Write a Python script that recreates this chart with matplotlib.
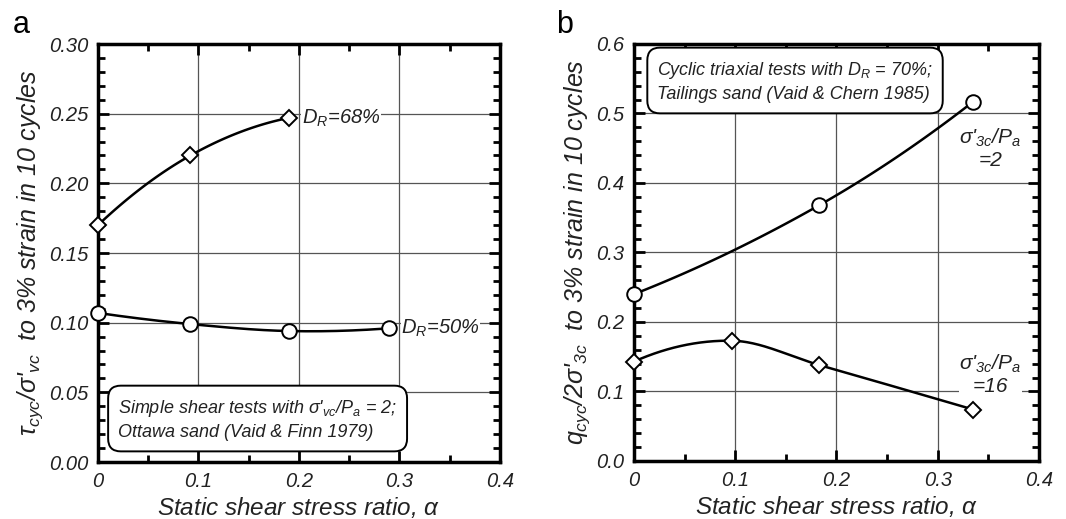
import numpy as np
import matplotlib
matplotlib.use('Agg')
import matplotlib.pyplot as plt
from matplotlib.ticker import MultipleLocator, FormatStrFormatter

plt.rcParams['font.family'] = ['Liberation Sans', 'DejaVu Sans']
plt.rcParams['font.style'] = 'italic'
plt.rcParams['mathtext.fontset'] = 'custom'
plt.rcParams['mathtext.rm'] = 'Liberation Sans:italic'
plt.rcParams['mathtext.it'] = 'Liberation Sans:italic'
plt.rcParams['mathtext.bf'] = 'Liberation Sans:bold:italic'

# panel a - simple shear (Vaid & Finn 1979)
a_dr68_x = [0.0, 0.092, 0.19]
a_dr68_y = [0.170, 0.220, 0.247]
a_dr50_x = [0.0, 0.092, 0.19, 0.29]
a_dr50_y = [0.107, 0.099, 0.094, 0.096]

# panel b - cyclic triaxial (Vaid & Chern 1985)
b_p2_x = [0.0, 0.183, 0.335]
b_p2_y = [0.240, 0.368, 0.517]
b_p16_x = [0.0, 0.097, 0.183, 0.335]
b_p16_y = [0.143, 0.173, 0.138, 0.074]

TXT = '#222222'


def smooth(x, y, n=60):
    # cubic hermite curve through the points (only for drawing)
    x = np.asarray(x, float)
    y = np.asarray(y, float)
    sec = np.diff(y) / np.diff(x)
    m = np.zeros_like(x)
    for i in range(1, len(x) - 1):
        m[i] = (y[i + 1] - y[i - 1]) / (x[i + 1] - x[i - 1])
    m[0] = 2 * sec[0] - m[1]
    m[-1] = 2 * sec[-1] - m[-2]
    xs_all, ys_all = [], []
    for i in range(len(x) - 1):
        h = x[i + 1] - x[i]
        t = np.linspace(0, 1, n)
        h00 = 2 * t**3 - 3 * t**2 + 1
        h10 = t**3 - 2 * t**2 + t
        h01 = -2 * t**3 + 3 * t**2
        h11 = t**3 - t**2
        xs_all.append(x[i] + t * h)
        ys_all.append(h00 * y[i] + h10 * h * m[i] + h01 * y[i + 1] + h11 * h * m[i + 1])
    return np.concatenate(xs_all), np.concatenate(ys_all)


def style_axes(ax, ymax, ymaj, ymin, yfmt):
    ax.set_xlim(0, 0.4)
    ax.set_ylim(0, ymax)
    ax.xaxis.set_major_locator(MultipleLocator(0.1))
    ax.xaxis.set_minor_locator(MultipleLocator(0.05))
    ax.yaxis.set_major_locator(MultipleLocator(ymaj))
    ax.yaxis.set_minor_locator(MultipleLocator(ymin))
    ax.xaxis.set_major_formatter(FormatStrFormatter('%g'))
    ax.yaxis.set_major_formatter(FormatStrFormatter(yfmt))
    ax.tick_params(which='both', direction='in', top=True, right=True,
                   labelsize=14.5, labelcolor=TXT, pad=7)
    ax.tick_params(which='major', length=8, width=2)
    ax.tick_params(which='minor', length=5, width=2)
    for s in ax.spines.values():
        s.set_linewidth(2.5)
    ax.grid(True, which='major', color='#555555', linewidth=0.9)
    ax.set_axisbelow(True)
    ax.set_xlabel(r'Static shear stress ratio, $\alpha$', fontsize=17.5,
                  color=TXT, labelpad=3)


fig = plt.figure(figsize=(10.66, 5.19), dpi=100)
ax1 = fig.add_axes([0.0919, 0.1098, 0.3771, 0.8054])
ax2 = fig.add_axes([0.5947, 0.1118, 0.3800, 0.8035])

wb = dict(facecolor='white', edgecolor='none', pad=0.5)
box = dict(boxstyle='round,pad=0.55,rounding_size=0.7', facecolor='white',
           edgecolor='black', linewidth=1.4)

# ---- panel a
style_axes(ax1, 0.30, 0.05, 0.01, '%.2f')
for xx, yy, mk, ms in [(a_dr68_x, a_dr68_y, 'D', 8), (a_dr50_x, a_dr50_y, 'o', 10.5)]:
    xs, ys = smooth(xx, yy)
    ax1.plot(xs, ys, color='black', linewidth=1.8, zorder=3)
    ax1.plot(xx, yy, linestyle='none', marker=mk, markersize=ms,
             markerfacecolor='white', markeredgecolor='black',
             markeredgewidth=1.4, zorder=4, clip_on=False)
ax1.text(0.203, 0.247, r'$D_R$=68%', fontsize=14.5, color=TXT,
         va='center', ha='left', bbox=wb, zorder=5)
ax1.text(0.302, 0.096, r'$D_R$=50%', fontsize=14.5, color=TXT,
         va='center', ha='left', bbox=wb, zorder=5)
ax1.text(0.02, 0.0305, "Simple shear tests with $\\sigma$'$_{vc}$/$P_a$ = 2;\nOttawa sand (Vaid & Finn 1979)",
         fontsize=13, color=TXT, va='center', ha='left', linespacing=1.45,
         bbox=box, zorder=6)
ax1.set_ylabel(r"$\tau_{cyc}$/$\sigma$'$_{vc}$  to 3% strain in 10 cycles",
               fontsize=18, color=TXT, labelpad=3)
fig.text(0.012, 0.952, 'a', fontsize=22, style='normal', color='black',
         ha='left', va='center')

# ---- panel b
style_axes(ax2, 0.6, 0.1, 0.02, '%.1f')
for xx, yy, mk, ms in [(b_p2_x, b_p2_y, 'o', 10.5), (b_p16_x, b_p16_y, 'D', 8)]:
    xs, ys = smooth(xx, yy)
    ax2.plot(xs, ys, color='black', linewidth=1.8, zorder=3)
    ax2.plot(xx, yy, linestyle='none', marker=mk, markersize=ms,
             markerfacecolor='white', markeredgecolor='black',
             markeredgewidth=1.4, zorder=4, clip_on=False)
ax2.text(0.352, 0.45, "$\\sigma$'$_{3c}$/$P_a$\n=2", fontsize=15, color=TXT,
         va='center', ha='center', linespacing=1.15, zorder=5)
ax2.text(0.352, 0.125, "$\\sigma$'$_{3c}$/$P_a$\n=16", fontsize=15, color=TXT,
         va='center', ha='center', linespacing=1.15, bbox=wb, zorder=5)
ax2.text(0.023, 0.546, "Cyclic triaxial tests with $D_R$ = 70%;\nTailings sand (Vaid & Chern 1985)",
         fontsize=13, color=TXT, va='center', ha='left', linespacing=1.45,
         bbox=box, zorder=6)
ax2.set_ylabel(r"$q_{cyc}$/2$\sigma$'$_{3c}$  to 3% strain in 10 cycles",
               fontsize=18, color=TXT, labelpad=3)
fig.text(0.522, 0.952, 'b', fontsize=22, style='normal', color='black',
         ha='left', va='center')

fig.savefig('out.png', dpi=100)
